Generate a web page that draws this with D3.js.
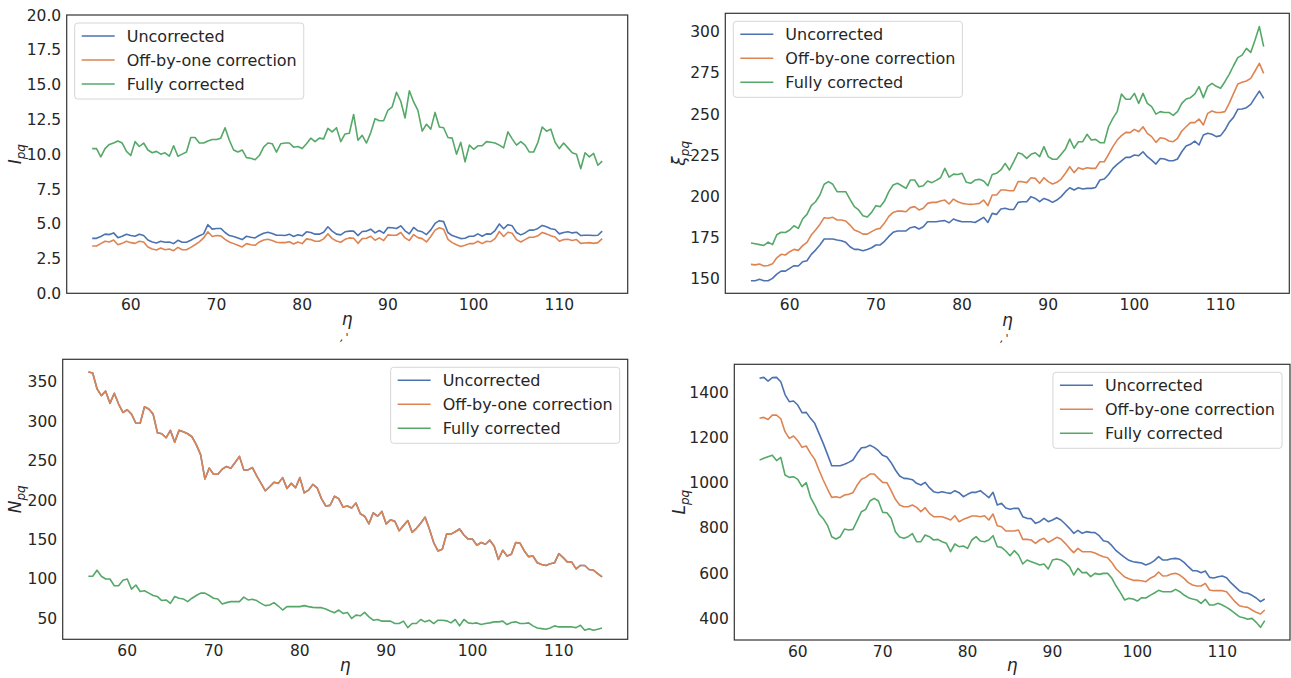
<!DOCTYPE html>
<html>
<head>
<meta charset="utf-8">
<script src="https://cdn.jsdelivr.net/npm/d3@7"></script>
<style>
  html, body { margin: 0; padding: 0; background: #fff; }
  svg { display: block; font-family: "DejaVu Sans", sans-serif; }
</style>
</head>
<body>
<svg id="chart" width="1291" height="678"></svg>
<script>
// eta grid: 55.5 .. 115 in steps of 0.5
const eta = d3.range(120).map(i => 55.5 + i * 0.5);

const seriesNames = ['Uncorrected', 'Off-by-one correction', 'Fully corrected'];
const seriesColors = ['#4c72b0', '#dd8452', '#55a868'];

// I_pq (top left)
const iUncorrected = [3.95,3.95,4.08,4.25,4.22,4.34,4.0,4.1,4.25,4.15,
  4.1,4.25,4.15,3.83,3.69,3.62,3.74,3.67,3.69,3.57,
  3.81,3.67,3.67,3.81,3.98,4.13,4.27,4.93,4.61,4.66,
  4.66,4.37,4.15,4.08,3.98,3.86,4.1,4.03,3.98,4.17,
  4.32,4.39,4.3,4.17,4.17,4.15,4.25,4.08,4.2,4.13,
  4.42,4.37,4.25,4.25,4.39,4.78,4.47,4.25,4.2,4.42,
  4.47,4.47,4.15,4.44,4.47,4.61,4.34,4.51,4.32,4.73,
  4.71,4.66,4.85,4.49,4.27,4.73,4.49,4.42,4.22,4.56,
  5.02,5.22,5.15,4.37,4.15,4.05,3.93,3.96,4.1,4.1,
  4.27,4.1,4.27,4.25,4.51,4.98,4.64,4.93,4.85,4.37,
  4.2,4.34,4.54,4.54,4.66,4.88,4.78,4.64,4.59,4.27,
  4.37,4.42,4.34,4.39,4.15,4.17,4.17,4.15,4.17,4.47];
const iOffByOne = [3.40,3.40,3.57,3.74,3.69,3.83,3.49,3.59,3.74,3.64,
  3.59,3.74,3.69,3.33,3.18,3.11,3.25,3.13,3.18,3.06,
  3.30,3.13,3.13,3.30,3.49,3.69,3.98,4.42,4.08,4.15,
  4.13,3.88,3.69,3.57,3.45,3.33,3.57,3.49,3.45,3.69,
  3.83,3.88,3.79,3.67,3.64,3.64,3.71,3.54,3.69,3.57,
  3.91,3.86,3.74,3.74,3.91,4.27,3.93,3.76,3.67,3.88,
  3.98,3.96,3.59,3.93,3.96,4.10,3.81,3.98,3.79,4.20,
  4.17,4.17,4.37,3.98,3.79,4.22,4.0,3.93,3.69,4.08,
  4.54,4.71,4.61,3.88,3.64,3.49,3.37,3.45,3.57,3.57,
  3.74,3.57,3.74,3.71,3.93,4.44,4.08,4.39,4.32,3.86,
  3.69,3.86,4.03,4.03,4.13,4.37,4.27,4.13,4.05,3.74,
  3.86,3.88,3.79,3.86,3.59,3.62,3.64,3.59,3.64,3.93];
const iFully = [10.4,10.4,9.8,10.4,10.7,10.8,10.95,10.8,10.2,9.9,
  10.9,10.55,10.8,10.3,10.1,10.2,10.0,10.1,9.85,10.6,
  9.85,10.0,10.15,11.2,11.2,10.8,10.8,10.95,11.05,11.05,
  11.15,11.9,11.0,10.3,10.15,10.3,9.75,9.7,9.6,9.9,
  10.5,10.8,10.75,10.15,10.75,10.8,10.8,10.5,10.55,10.4,
  10.75,11.15,10.9,11.15,11.1,11.85,11.6,11.9,10.9,11.45,
  11.5,12.85,11.0,11.35,10.8,11.55,12.55,12.4,12.4,13.15,
  13.4,14.45,13.8,12.6,14.55,13.75,13.15,11.65,12.15,11.8,
  13.0,11.95,11.9,11.2,11.15,10.0,10.85,9.45,10.65,10.35,
  10.6,10.6,10.9,10.85,10.8,10.65,10.45,11.6,11.1,10.65,
  10.9,10.65,10.15,10.15,10.85,11.95,11.65,11.8,10.85,10.4,
  10.8,10.45,10.1,10.0,8.95,10.1,9.8,10.05,9.2,9.5];

// xi_pq (top right)
const xiUncorrected = [148.5,148.5,149.4,148.5,148.5,150.0,152.6,
  154.4,154.4,156.1,157.7,157.5,160.1,160.7,164.6,167.2,170.3,
  173.9,173.9,173.9,173.3,172.9,171.9,169.2,167.6,167.6,166.8,
  167.6,168.6,170.3,170.3,172.5,175.5,178.0,178.8,178.8,178.8,
  180.8,181.4,180.0,181.4,184.4,184.4,184.4,184.9,185.1,183.8,
  186.1,185.1,184.4,184.4,184.4,184.0,185.5,187.1,184.0,189.5,
  188.9,192.2,192.6,191.9,191.9,196.2,196.6,196.6,199.7,198.6,
  196.6,198.6,197.6,196.2,197.6,199.7,202.7,205.1,203.7,205.1,
  204.3,204.7,204.7,205.3,209.8,210.4,213.2,216.9,219.3,221.5,
  223.6,223.6,225.0,224.6,227.0,224.0,221.9,219.5,222.9,222.6,
  221.5,221.5,222.6,227.0,230.5,231.5,233.5,231.1,237.2,238.2,
  237.6,236.2,236.8,240.2,244.9,247.9,252.8,253.0,253.8,255.8,
  259.9,263.9,259.5];
const xiOffByOne = [158.5,158.2,158.7,157.5,157.8,158.8,162.5,
  164.6,164.2,166.2,167.6,167.0,169.9,171.9,176.3,179.4,182.8,
  186.9,186.5,187.1,185.5,185.5,184.9,182.4,179.4,178.4,176.9,
  176.9,178.4,179.8,180.4,183.6,187.7,190.1,190.9,190.9,190.5,
  193.0,193.6,191.6,192.6,195.6,196.2,196.2,197.0,197.6,195.2,
  198.2,196.6,195.6,195.2,195.0,195.2,195.6,197.6,194.2,200.7,
  200.7,203.7,203.7,203.3,203.3,208.8,208.8,208.2,211.2,210.8,
  207.8,211.2,208.8,207.4,208.4,210.4,213.9,217.9,214.3,217.3,
  216.3,217.3,216.9,216.9,220.9,220.9,225.4,230.1,234.1,236.8,
  238.8,238.6,240.6,239.2,242.2,238.2,236.2,232.7,235.5,235.1,
  233.5,233.1,235.1,239.6,242.2,244.7,244.7,246.9,243.3,250.3,
  251.8,250.9,250.9,251.4,256.4,262.3,268.2,269.2,270.0,271.6,
  276.1,280.8,274.7];
const xiFully = [171.5,171.0,170.5,170.0,172.0,170.5,176.5,
  178.0,177.9,179.4,182.0,180.4,186.1,188.9,194.2,196.6,200.7,
  207.2,208.8,207.2,202.7,202.7,202.7,198.0,193.6,191.6,188.1,
  187.3,190.1,194.2,193.6,197.0,202.7,206.8,207.8,206.3,204.7,
  209.8,209.8,205.7,206.3,209.2,208.2,209.6,211.2,216.9,211.6,
  213.4,213.2,213.9,208.4,207.8,209.8,210.2,209.2,206.3,213.2,
  213.9,215.9,219.9,215.9,221.0,226.4,225.4,223.0,225.4,226.4,
  224.0,230.1,224.0,222.4,222.4,225.4,228.7,234.7,229.1,233.1,
  233.1,237.6,234.1,234.5,232.5,232.5,242.2,247.3,251.4,262.1,
  258.9,258.9,262.5,256.4,262.5,256.4,254.4,249.9,251.4,250.9,
  250.9,249.1,251.4,256.4,259.1,259.9,262.1,266.6,259.9,266.6,
  268.6,266.8,265.6,269.6,274.1,279.3,284.2,285.8,289.9,287.4,
  294.9,303.1,290.9];

// N_pq (bottom left): uncorrected and off-by-one coincide in the picture
const nOffByOne = [362.4,361.1,341.0,332.4,338.0,322.6,335.4,321.7,311.0,314.4,
  308.9,297.3,297.3,318.3,315.3,308.9,285.3,284.0,278.9,288.3,
  273.3,288.3,286.6,284.0,280.2,270.3,257.5,226.6,240.4,232.6,
  232.6,239.1,242.5,240.4,247.6,255.3,238.2,238.2,241.2,230.5,
  221.1,211.7,216.8,222.4,221.1,228.4,214.7,221.1,215.5,228.4,
  209.1,212.5,219.8,215.5,201.8,192.4,193.2,204.8,201.8,191.1,
  192.4,189.8,196.2,182.5,179.5,169.7,183.8,179.5,185.5,169.7,
  174.8,173.1,161.1,167.5,174.0,159.0,164.1,170.5,178.3,163.3,
  146.1,135.4,137.6,156.8,156.8,159.8,163.3,155.6,150.4,150.4,
  142.7,146.1,143.9,149.1,141.8,124.7,136.3,129.0,131.2,146.1,
  145.3,135.4,128.2,129.0,120.4,118.3,117.0,119.2,120.4,132.0,
  126.9,121.3,121.3,112.7,117.0,117.0,111.9,111.0,106.7,102.4];
const nUncorrected = nOffByOne;
const nFully = [103.3,103.3,111.0,103.3,99.9,99.9,91.3,91.3,98.2,99.9,
  87.0,92.2,84.0,84.9,81.9,78.9,77.6,72.5,73.3,69.0,
  77.6,75.5,74.6,71.2,75.5,78.9,81.9,81.9,78.9,75.5,
  74.6,68.2,69.9,71.2,71.2,71.2,76.8,73.3,74.2,72.5,
  69.0,66.1,66.9,69.9,65.6,60.5,64.8,64.8,64.8,64.8,
  66.1,64.8,63.9,63.5,63.5,61.8,59.2,57.1,60.5,56.2,
  57.5,49.8,54.1,53.2,57.5,51.9,47.6,48.5,46.4,46.4,
  46.4,43.4,43.4,46.4,38.2,43.4,43.4,48.5,45.5,47.6,
  43.4,47.6,47.6,46.8,44.2,48.5,40.4,48.5,44.2,43.4,
  44.2,42.1,43.4,44.2,45.5,45.5,46.4,42.1,44.6,45.5,
  43.4,43.4,44.2,40.4,37.8,36.9,36.1,37.8,40.4,39.1,
  39.1,39.1,39.1,38.2,41.2,34.8,36.9,34.8,36.1,37.8];

// L_pq (bottom right)
const lUncorrected = [1462,1466,1450,1465,1466,1447,1390,
  1358.6,1361.5,1343.8,1309.9,1311.4,1284.8,1262.7,1218.5,1174.2,1125.5,
  1075.4,1075.4,1075.4,1081.3,1090.1,1100.5,1130,1155,1156.5,1165.4,
  1156.5,1141.8,1121.1,1113.7,1088.7,1056.2,1029.7,1019.3,1017.9,1013.4,
  997.2,989.8,1001.6,978,960.3,955.9,960.3,955.9,952.9,964.8,
  955.9,938.2,948.6,957.4,957.4,964.8,950,933.8,957.4,901.3,
  908.7,888.1,882.2,886.6,886.6,849.8,842.3,840.9,820.2,827.6,
  842.3,827.6,835,845.3,835,817.3,798.1,776,789.2,776,
  783.4,780.4,779,765.7,743.5,739.1,721.4,699.3,684.5,669.7,
  656.5,650.6,647.6,644.7,635.8,643.2,655,672.7,657.9,657.9,
  663.8,665.3,660.9,647.6,628.4,610.7,610.7,601.9,609.3,581.2,
  578.3,584.2,587.2,579.8,557.7,540,522.3,513.4,510.5,501.6,
  489.8,473.6,485.4];
const lOffByOne = [1285,1289,1280,1299,1299,1283,1225.8,
  1196.3,1206.7,1186,1156.5,1162.4,1130,1103.4,1056.2,1012,972.1,
  935.3,938.2,933.8,945.6,948.5,955.9,989.8,1014.9,1023.7,1038.5,
  1038.5,1019.3,1001.6,1000.1,964.8,926.4,901.3,893.9,893.9,901.3,
  891,871.8,889.5,864.4,849.7,849.7,849.7,842.3,834.9,854.1,
  827.6,837.9,845.3,852.6,852.6,849.7,854.1,834.9,861.5,809.9,
  805.4,786.3,786.3,786.3,790.7,749.4,749.4,746.5,731.7,746.5,
  753.8,736.1,746.5,758.3,750.9,731.7,709.6,690.4,709.6,694.8,
  694.8,694.8,688.9,680.1,672.7,668.3,646.2,618.1,600.4,582.7,
  575.4,568,568,566.5,562.1,576.9,585.7,604.9,587.2,588.6,
  596,599,591.6,576.9,557.7,547.3,542.9,542.9,554.7,525.2,
  522.3,522.3,522.3,517.8,495.7,473.6,455.9,451.5,448.5,436.7,
  426.4,419,436.7];
const lFully = [1100,1108,1115,1122,1098,1112,1034.1,
  1023.7,1026.7,1014.9,982.4,1000.1,935.3,901.3,861.5,840.9,811.4,
  761.2,750.9,761.2,795.1,790.7,793.7,832,871.8,882.2,919.1,
  930.8,919.1,868.9,867.4,842.3,783.4,759.8,753.8,761.2,774.5,
  739.1,739.1,768.6,761.2,746.5,749.4,739.1,731.7,694.8,728.8,
  717,719.9,709.6,746.5,761.2,742,739.1,746.5,765.6,717,
  714,697.8,677.1,699.3,680.1,640.2,658,650.6,643.2,635.8,
  640.2,618.1,658,662.4,658,646.2,628.4,591.6,621.1,601.9,
  603.4,584.2,598.9,594.5,598.9,598.9,576.9,542.9,513.4,481,
  488.3,485.4,476.5,491.3,489.8,501.6,511.9,523.7,517.8,517.8,
  517.8,528.2,517.8,503.1,491.3,485.4,481,466.2,483.9,458.8,
  458.8,466.2,458.8,448.5,436.7,422,407.2,402.8,395.4,399.8,
  382.1,360,389.5];

const xTicks = [60, 70, 80, 90, 100, 110];
const iTicks = [0, 2.5, 5, 7.5, 10, 12.5, 15, 17.5, 20];
const xiTicks = [150, 175, 200, 225, 250, 275, 300];
const nTicks = [50, 100, 150, 200, 250, 300, 350];
const lTicks = [400, 600, 800, 1000, 1200, 1400];

const TEXT = '#262626';
const svg = d3.select('#chart');

const panels = [
  { box: { l: 66.7, r: 627.7, t: 15, b: 293.3 }, yDomain: [0, 20], yTicks: iTicks, fmt: d3.format('.1f'),
    series: [iUncorrected, iOffByOne, iFully], sym: 'I', legend: 'ul', labelX: 21, xLabelY: 325, stray: true },
  { box: { l: 725.3, r: 1289.3, t: 13.3, b: 293.3 }, yDomain: [140.9, 311.2], yTicks: xiTicks, fmt: d3.format('d'),
    series: [xiUncorrected, xiOffByOne, xiFully], sym: 'ξ', legend: 'ul', labelX: 685, xLabelY: 326, stray: true },
  { box: { l: 62.7, r: 627.7, t: 359.3, b: 639.3 }, yDomain: [23.4, 378.4], yTicks: nTicks, fmt: d3.format('d'),
    series: [nUncorrected, nOffByOne, nFully], sym: 'N', legend: 'ur', labelX: 21, xLabelY: 671 },
  { box: { l: 734.3, r: 1290, t: 364.3, b: 640 }, yDomain: [304, 1524], yTicks: lTicks, fmt: d3.format('d'),
    series: [lUncorrected, lOffByOne, lFully], sym: 'L', legend: 'ur', labelX: 685, xLabelY: 671 }
];

panels.forEach(p => {
  const { l, r, t, b } = p.box;
  const x = d3.scaleLinear().domain([52.525, 117.975]).range([l, r]);
  const y = d3.scaleLinear().domain(p.yDomain).range([b, t]);
  const g = svg.append('g');

  // tick labels (seaborn white style: no tick marks)
  g.append('g').selectAll('text').data(xTicks).join('text')
    .attr('x', d => x(d)).attr('y', b + 17)
    .attr('text-anchor', 'middle').attr('font-size', 15.5).attr('fill', TEXT)
    .text(d => d);
  g.append('g').selectAll('text').data(p.yTicks).join('text')
    .attr('x', l - 5.5).attr('y', d => y(d)).attr('dy', '0.36em')
    .attr('text-anchor', 'end').attr('font-size', 15.5).attr('fill', TEXT)
    .text(d => p.fmt(d));

  // lines
  const line = d3.line().x((d, i) => x(eta[i])).y(d => y(d));
  g.append('g').selectAll('path').data(p.series).join('path')
    .attr('d', d => line(d))
    .attr('fill', 'none')
    .attr('stroke', (d, i) => seriesColors[i])
    .attr('stroke-width', 1.6)
    .attr('stroke-linejoin', 'round');

  // frame
  g.append('rect')
    .attr('x', l).attr('y', t).attr('width', r - l).attr('height', b - t)
    .attr('fill', 'none').attr('stroke', '#333').attr('stroke-width', 1.2);

  // axis labels
  const cx = (l + r) / 2;
  g.append('text')
    .attr('x', cx).attr('y', p.xLabelY)
    .attr('text-anchor', 'middle').attr('font-size', 17).attr('font-style', 'italic').attr('fill', TEXT)
    .text('η');
  if (p.stray) {
    // small stray marks under the eta label in the top row of the original
    g.append('text')
      .attr('x', cx - 2).attr('y', p.xLabelY + 16)
      .attr('text-anchor', 'middle').attr('font-size', 11).attr('font-style', 'italic').attr('fill', TEXT)
      .attr('letter-spacing', 2)
      .text(",'");
  }
  const yl = g.append('text')
    .attr('transform', `translate(${p.labelX},${(t + b) / 2}) rotate(-90)`)
    .attr('text-anchor', 'middle').attr('font-size', 17).attr('fill', TEXT);
  yl.append('tspan').attr('font-style', 'italic').text(p.sym);
  yl.append('tspan').attr('font-style', 'italic').attr('font-size', 12).attr('dy', 4).text('pq');

  // legend
  const lg = g.append('g');
  const bg = lg.append('rect');
  let maxW = 0;
  seriesNames.forEach((name, i) => {
    const ry = 13 + i * 24;
    lg.append('line').attr('x1', 7).attr('x2', 40).attr('y1', ry).attr('y2', ry)
      .attr('stroke', seriesColors[i]).attr('stroke-width', 1.6);
    const tx = lg.append('text').attr('x', 52).attr('y', ry).attr('dy', '0.35em')
      .attr('font-size', 16).attr('fill', TEXT).text(name);
    maxW = Math.max(maxW, tx.node().getComputedTextLength());
  });
  const w = 52 + maxW + 7, h = 76;
  bg.attr('width', w).attr('height', h).attr('rx', 3)
    .attr('fill', '#fff').attr('fill-opacity', 0.8)
    .attr('stroke', '#d6d6d6').attr('stroke-width', 1);
  const lx = p.legend === 'ul' ? l + 8 : r - 8 - w;
  lg.attr('transform', `translate(${lx},${t + 8})`);
});
</script>
</body>
</html>
